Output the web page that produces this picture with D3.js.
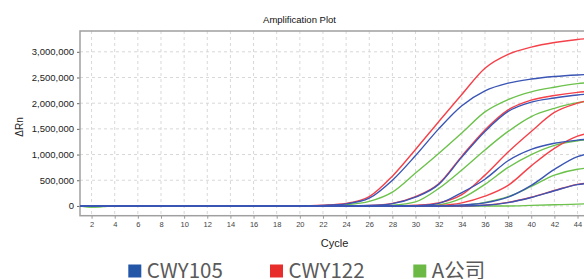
<!DOCTYPE html>
<html>
<head>
  <meta charset="utf-8">
  <title>Amplification Plot</title>
  <style type="text/css">
    body{
      margin:0;
      background:#fff;
    }
    .tick text{
      font-family:"Liberation Sans", Arial, sans-serif;
    }
  </style>
</head>
<body>
<div id="chart"></div>
<script src="https://d3js.org/d3.v7.min.js"></script>
<script type="text/javascript">
  // cycles (flat before ~cycle 20)
  var cycles = [1, 2, 3, 4, 18, 20, 22, 24, 26, 28, 30, 32, 34, 36, 38, 40, 42, 44, 45];

  // CWY105 (blue)
  var blue1 = [0, 0, 0, 0, 0, 0, 10000, 40000, 150000, 500000, 980000, 1500000, 1950000, 2240000, 2390000, 2470000, 2520000, 2550000, 2560000];
  var blue2 = [0, 0, 0, 0, 0, 0, 0, 0, 8000, 45000, 170000, 420000, 950000, 1450000, 1840000, 2020000, 2100000, 2160000, 2180000];
  var blue3 = [0, 0, 0, 0, 0, 0, 0, 0, 0, 0, 5000, 50000, 260000, 520000, 880000, 1100000, 1220000, 1280000, 1300000];
  var blue4 = [0, 0, 0, 0, 0, 0, 0, 0, 0, 0, 0, 0, 20000, 60000, 170000, 400000, 710000, 960000, 1020000];
  var blue5 = [0, 0, 0, 0, 0, 0, 0, 0, 0, 0, 0, 0, 0, 12000, 65000, 165000, 295000, 415000, 440000];

  // CWY122 (red)
  var red1 = [0, 0, 0, 0, 0, 0, 15000, 50000, 180000, 580000, 1100000, 1640000, 2170000, 2680000, 2950000, 3090000, 3180000, 3240000, 3260000];
  var red2 = [0, 0, 0, 0, 0, 0, 0, 0, 10000, 50000, 180000, 430000, 970000, 1480000, 1870000, 2060000, 2150000, 2210000, 2230000];
  var red3 = [0, 0, 0, 0, 0, 0, 0, 0, 0, 0, 15000, 60000, 220000, 600000, 1050000, 1450000, 1820000, 2000000, 2060000];
  var red4 = [0, 0, 0, 0, 0, 0, 0, 0, 0, 0, 0, 10000, 60000, 190000, 400000, 780000, 1120000, 1360000, 1420000];
  var red5 = [0, 0, 0, 0, 0, 0, 0, 0, 0, 0, 0, 0, 0, 15000, 70000, 170000, 300000, 420000, 445000];

  // A公司 (green)
  var green1 = [0, -20000, -12000, 0, 0, 0, 5000, 25000, 90000, 270000, 640000, 1020000, 1420000, 1830000, 2070000, 2220000, 2310000, 2380000, 2400000];
  var green2 = [0, -15000, -8000, 0, 0, 0, 0, 0, 0, 15000, 80000, 340000, 700000, 1090000, 1450000, 1740000, 1900000, 2010000, 2040000];
  var green3 = [0, 0, 0, 0, 0, 0, 0, 0, 0, 0, 0, 20000, 150000, 420000, 750000, 1000000, 1180000, 1270000, 1290000];
  var green4 = [0, 0, 0, 0, 0, 0, 0, 0, 0, 0, 0, 0, 10000, 70000, 180000, 380000, 600000, 715000, 740000];
  var green5 = [0, 0, 0, 0, 0, 0, 0, 0, 0, 0, 0, 0, 0, 0, 0, 10000, 22000, 35000, 45000];

  var xTicks = [2, 4, 6, 8, 10, 12, 14, 16, 18, 20, 22, 24, 26, 28, 30, 32, 34, 36, 38, 40, 42, 44];
  var yTicks = [0, 500000, 1000000, 1500000, 2000000, 2500000, 3000000];
  var legendNames = ["CWY105", "CWY122", "A公司"];

  var lineColors = {blue: "#3a55b4", red: "#f4414a", green: "#6cc24c"};
  var legendColors = ["#2456a8", "#e82e2b", "#6cb946"];

  // drawing order: green under red under blue (blue shows on the baseline)
  var series = [
    {c: "green", v: green5}, {c: "green", v: green4}, {c: "green", v: green3}, {c: "green", v: green2}, {c: "green", v: green1},
    {c: "red", v: red5}, {c: "red", v: red4}, {c: "red", v: red3}, {c: "red", v: red2}, {c: "red", v: red1},
    {c: "blue", v: blue5}, {c: "blue", v: blue4}, {c: "blue", v: blue3}, {c: "blue", v: blue2}, {c: "blue", v: blue1}
  ];

  var W = 584, H = 279;
  var pL = 80, pT = 31, pB = 215.7, pR = 589.1;

  var svg = d3.select("#chart").append("svg")
      .attr("width", W)
      .attr("height", H)
      .style("display", "block");

  var x = d3.scaleLinear().domain([1, 45]).range([pL, pR]);
  var y = d3.scaleLinear().domain([-190000, 3405000]).range([pB, pT]);

  svg.append("defs").append("clipPath").attr("id", "clip")
    .append("rect")
      .attr("x", pL).attr("y", pT)
      .attr("width", pR - pL).attr("height", pB - pT);

  // grid
  svg.append("g").selectAll("line").data(xTicks).enter().append("line")
      .attr("x1", function (d) { return x(d); })
      .attr("x2", function (d) { return x(d); })
      .attr("y1", pT).attr("y2", pB)
      .style("stroke", "#d8d8d8")
      .style("stroke-dasharray", "3,3")
      .style("stroke-width", 1);
  svg.append("g").selectAll("line").data(yTicks).enter().append("line")
      .attr("x1", pL).attr("x2", pR)
      .attr("y1", function (d) { return y(d); })
      .attr("y2", function (d) { return y(d); })
      .style("stroke", "#d8d8d8")
      .style("stroke-dasharray", "3,3")
      .style("stroke-width", 1);

  // axes
  var yAxis = d3.axisLeft(y).tickValues(yTicks).tickFormat(d3.format(",")).tickSize(3).tickPadding(3);
  var gy = svg.append("g").attr("transform", "translate(" + pL + ",0)").call(yAxis);
  gy.select(".domain").remove();
  gy.selectAll(".tick line").style("stroke", "#666");
  gy.selectAll(".tick text").style("font-size", "9.5px").style("fill", "#222");

  var xAxis = d3.axisBottom(x).tickValues(xTicks).tickSize(3).tickPadding(3);
  var gx = svg.append("g").attr("transform", "translate(0," + pB + ")").call(xAxis);
  gx.select(".domain").remove();
  gx.selectAll(".tick line").style("stroke", "#999");
  gx.selectAll(".tick text").style("font-size", "7.5px").style("fill", "#444");

  // plot frame
  svg.append("rect")
      .attr("x", pL).attr("y", pT)
      .attr("width", pR - pL).attr("height", pB - pT)
      .style("fill", "none")
      .style("stroke", "#a0a0a0")
      .style("stroke-width", 1.5);

  // curves
  var line = d3.line()
      .x(function (d) { return x(d[0]); })
      .y(function (d) { return y(d[1]); })
      .curve(d3.curveMonotoneX);

  svg.append("g").attr("clip-path", "url(#clip)")
    .selectAll("path").data(series).enter().append("path")
      .attr("d", function (s) { return line(cycles.map(function (c, i) { return [c, s.v[i]]; })); })
      .style("fill", "none")
      .style("stroke", function (s) { return lineColors[s.c]; })
      .style("stroke-width", 1.4);

  // titles
  svg.append("text")
      .attr("x", 299.5).attr("y", 22.5)
      .style("text-anchor", "middle")
      .style("font-family", "Liberation Sans, Arial, sans-serif")
      .style("font-size", "9.5px")
      .style("fill", "#111")
      .text("Amplification Plot");

  svg.append("text")
      .attr("x", (pL + pR) / 2).attr("y", 246.5)
      .style("text-anchor", "middle")
      .style("font-family", "Liberation Sans, Arial, sans-serif")
      .style("font-size", "11px")
      .style("fill", "#222")
      .text("Cycle");

  svg.append("text")
      .attr("transform", "translate(22.5,127) rotate(-90)")
      .style("text-anchor", "middle")
      .style("font-family", "Liberation Sans, Arial, sans-serif")
      .style("font-size", "10px")
      .style("fill", "#222")
      .text("ΔRn");

  // legend
  var legendX = [128.3, 270, 413.3];
  var lg = svg.selectAll(".legend").data(legendNames).enter().append("g")
      .attr("class", "legend")
      .attr("transform", function (d, i) { return "translate(" + legendX[i] + ",0)"; });
  lg.append("rect")
      .attr("x", 0).attr("y", 264.5)
      .attr("width", 13).attr("height", 13)
      .style("fill", function (d, i) { return legendColors[i]; });
  lg.append("text")
      .attr("x", 18.5).attr("y", 277.5)
      .style("font-family", "Noto Sans CJK SC, Noto Sans, sans-serif")
      .style("font-size", "20.5px")
      .style("fill", "#5a5a5a")
      .text(function (d) { return d; });
</script>
</body>
</html>
